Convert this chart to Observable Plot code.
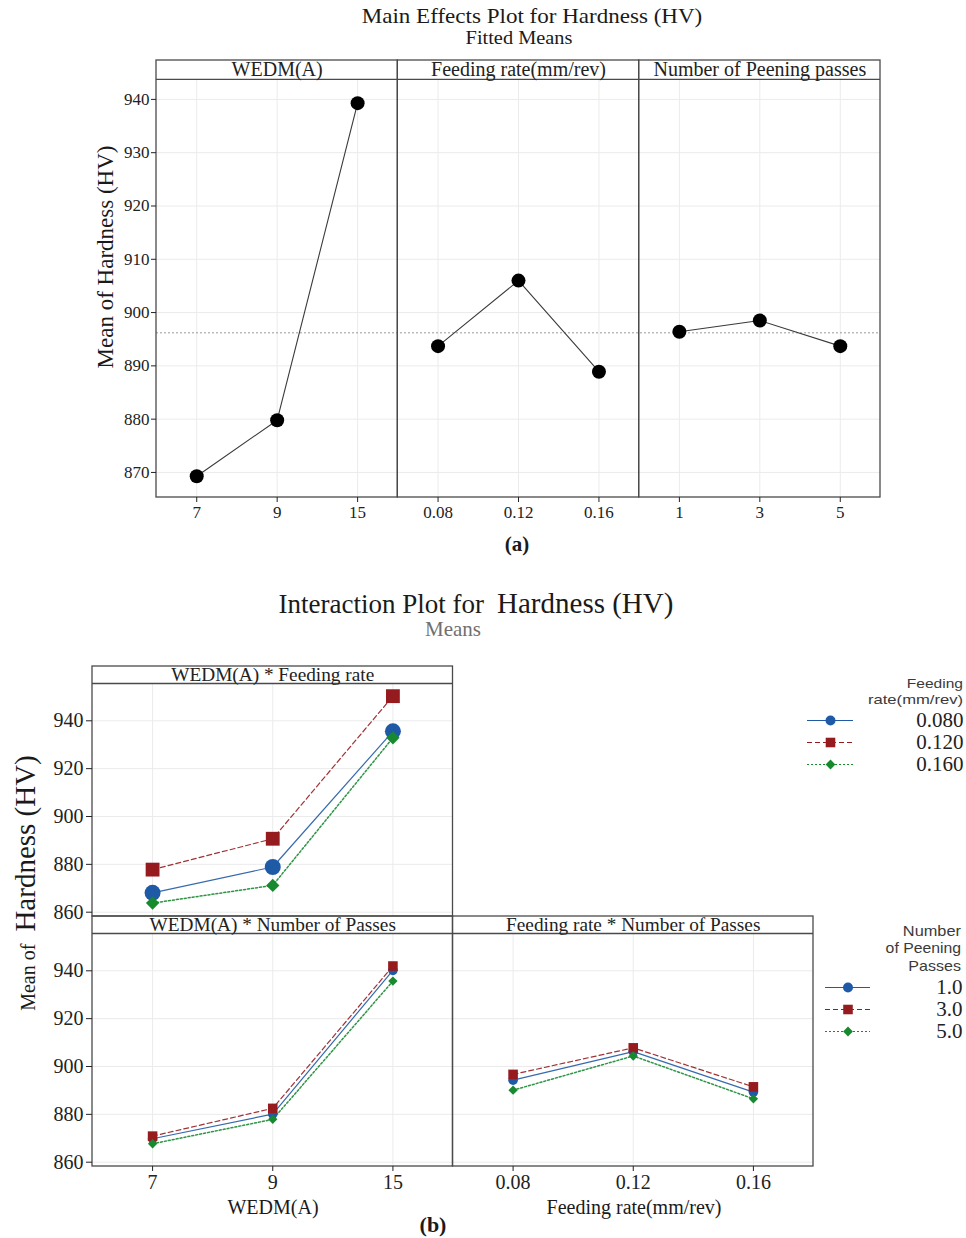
<!DOCTYPE html>
<html><head><meta charset="utf-8">
<script src="https://cdn.jsdelivr.net/npm/d3@7"></script>
<script src="https://cdn.jsdelivr.net/npm/@observablehq/plot@0.6"></script>
<style>
body{margin:0;background:#fff;}
#root{position:relative;width:966px;height:1238px;overflow:hidden;background:#fff;font-family:"Liberation Serif","Times New Roman",serif;color:#1a1a1a;}
.lbl{position:absolute;white-space:nowrap;line-height:1;}
.plotbox{position:absolute;left:0;}
.plotbox svg{overflow:visible;}
</style></head><body><div id="root"></div>
<script>
// ---------- data: main effects ----------
const wedmLevels = ["7", "9", "15"];
const feedLevels = ["0.08", "0.12", "0.16"];
const passLevels = ["1", "3", "5"];
const wedmMeans = [869.3, 879.8, 939.3];
const feedMeans = [893.7, 906.0, 888.9];
const passMeans = [896.4, 898.5, 893.7];
const grandMean = 896.2;
const mainStrips = ["WEDM(A)", "Feeding rate(mm/rev)", "Number of Peening passes"];
const mainTicks = [870, 880, 890, 900, 910, 920, 930, 940];

// ---------- data: interaction ----------
const feedSeries = ["0.080", "0.120", "0.160"];
const passSeries = ["1.0", "3.0", "5.0"];
const wedmByFeed = [[868.1, 878.9, 935.6], [877.8, 890.7, 950.3], [863.8, 871.2, 932.9]];
const wedmByPass = [[869.8, 880.1, 940.2], [870.9, 882.5, 942.0], [867.7, 877.9, 935.7]];
const feedByPass = [[894.3, 906.2, 889.3], [896.7, 907.8, 891.5], [890.1, 904.4, 886.5]];
const interTicks = [860, 880, 900, 920, 940];
const interStrips = ["WEDM(A) * Feeding rate", "WEDM(A) * Number of Passes", "Feeding rate * Number of Passes"];

// ---------- styles ----------
const seriesStyle = [
  {color: "#1f5aa6", dash: null, symbol: "circle", rBig: 8, rSmall: 4.8, rLeg: 5},
  {color: "#961b1e", dash: "5,3", symbol: "square", rBig: 7.8, rSmall: 5.4, rLeg: 5.4},
  {color: "#178a30", dash: "2,2", symbol: "diamond2", rBig: 6, rSmall: 4.2, rLeg: 4.4}
];
const frameColor = "#4a4a4a";
const gridColor = "#ebebeb";
const serif = "Liberation Serif, Times New Roman, serif";

const root = document.getElementById("root");
function label(text, cx, cy, css, opts) {
  opts = opts || {};
  const d = document.createElement("div");
  d.className = "lbl";
  d.innerHTML = text;
  d.style.left = cx + "px";
  d.style.top = cy + "px";
  const sx = opts.sx ? ` scaleX(${opts.sx})` : "";
  if (opts.right) {
    d.style.transformOrigin = "100% 50%";
    d.style.transform = "translate(-100%,-50%)" + sx;
  } else {
    d.style.transform = "translate(-50%,-50%)" + (opts.rotate ? " rotate(-90deg)" : "") + sx;
  }
  Object.assign(d.style, css || {});
  root.appendChild(d);
  return d;
}
function place(svg, top, left) {
  const box = document.createElement("div");
  box.className = "plotbox";
  box.style.top = top + "px";
  box.style.left = (left || 0) + "px";
  box.appendChild(svg);
  root.appendChild(box);
}

// ================= (a) Main effects =================
const factors = [
  {levels: wedmLevels, means: wedmMeans},
  {levels: feedLevels, means: feedMeans},
  {levels: passLevels, means: passMeans}
];
const mainData = factors.flatMap((f, k) => f.levels.map((lv, j) => ({factor: k, i: 3 * k + j, v: f.means[j]})));
const mainTickLabels = [...wedmLevels, ...feedLevels, ...passLevels];
const mainPanels = [0, 1, 2].map(k => ({x1: 3 * k - 0.5, x2: 3 * k + 2.5, xc: 3 * k + 1, label: mainStrips[k]}));
const yMinA = 865.3, yStripA = 943.75, yTopA = 947.3;

const mainPlot = Plot.plot({
  width: 966, height: 485,
  marginTop: 15, marginBottom: 33, marginLeft: 156, marginRight: 86,
  style: {background: "transparent", fontFamily: serif, fontSize: "17px", color: "#222"},
  x: {type: "linear", domain: [-0.5, 8.5]},
  y: {domain: [yMinA, yTopA]},
  marks: [
    Plot.ruleY(mainTicks, {stroke: gridColor}),
    Plot.ruleX(d3.range(9), {y1: yMinA, y2: yStripA, stroke: gridColor}),
    Plot.ruleY([grandMean], {stroke: "#9a9a9a", strokeDasharray: "2,2"}),
    Plot.line(mainData, {x: "i", y: "v", z: "factor", stroke: "#3a3a3a", strokeWidth: 1.1}),
    Plot.dot(mainData, {x: "i", y: "v", r: 7, fill: "#000"}),
    Plot.rect(mainPanels, {x1: "x1", x2: "x2", y1: yMinA, y2: yTopA, fill: "none", stroke: frameColor, strokeWidth: 1.3}),
    Plot.ruleY(mainPanels, {x1: "x1", x2: "x2", y: yStripA, stroke: frameColor, strokeWidth: 1.3}),
    Plot.text(mainPanels, {x: "xc", y: (yStripA + yTopA) / 2, text: "label", fontSize: 20, fill: "#222"}),
    Plot.axisY({ticks: mainTicks, tickSize: 5, tickPadding: 2, label: null}),
    Plot.axisX({ticks: d3.range(9), tickFormat: i => mainTickLabels[i], tickSize: 5, tickPadding: 3, label: null})
  ]
});
place(mainPlot, 45);

label("Main Effects Plot for Hardness (HV)", 532, 16.4, {fontSize: "22px"}, {sx: 1.047});
label("Fitted Means", 519, 38.6, {fontSize: "17.8px"}, {sx: 1.145});
label("Mean of Hardness (HV)", 105, 257, {fontSize: "23px"}, {rotate: true});
label("(a)", 517, 544, {fontSize: "21px", fontWeight: "bold"});

// ================= (b) Interaction =================
const yMinB = 858.2, yStripB = 955.6, yTopB = 962.7;
const interTickLabels = [...wedmLevels, ...feedLevels];

function panelMarks(panels, seriesSets, big) {
  const grid = panels.flatMap(p => interTicks.map(t => ({y: t, x1: p.x1, x2: p.x2})));
  const vgrid = panels.flatMap(p => [0, 1, 2].map(j => p.x1 + 0.5 + j));
  const marks = [
    Plot.ruleY(grid, {y: "y", x1: "x1", x2: "x2", stroke: gridColor}),
    Plot.ruleX(vgrid, {y1: yMinB, y2: yStripB, stroke: gridColor})
  ];
  const perSeries = [0, 1, 2].map(s => seriesSets.flatMap((set, pi) =>
    set.values[s].map((v, j) => ({panel: pi, i: set.offset + j, v}))));
  perSeries.forEach((data, s) => {
    const st = seriesStyle[s];
    marks.push(Plot.line(data, {x: "i", y: "v", z: "panel", stroke: st.color, strokeWidth: s === 2 ? 1.5 : 1.2, strokeDasharray: st.dash, strokeOpacity: 0.9}));
  });
  perSeries.forEach((data, s) => {
    const st = seriesStyle[s];
    marks.push(Plot.dot(data, {x: "i", y: "v", symbol: st.symbol, r: big ? st.rBig : st.rSmall, fill: st.color}));
  });
  marks.push(
    Plot.rect(panels, {x1: "x1", x2: "x2", y1: yMinB, y2: yTopB, fill: "none", stroke: frameColor, strokeWidth: 1.3}),
    Plot.ruleY(panels, {x1: "x1", x2: "x2", y: yStripB, stroke: frameColor, strokeWidth: 1.3}),
    Plot.text(panels, {x: "xc", y: (yStripB + yTopB) / 2, text: "label", fontSize: 19.3, fill: "#222"}),
    Plot.axisY({ticks: interTicks, tickSize: 6, tickPadding: 3, label: null})
  );
  return marks;
}

const rowA = Plot.plot({
  width: 966, height: 290,
  marginTop: 26, marginBottom: 14, marginLeft: 92, marginRight: 153,
  style: {background: "transparent", fontFamily: serif, fontSize: "20px", color: "#222"},
  x: {type: "linear", domain: [-0.5, 5.5], axis: null},
  y: {domain: [yMinB, yTopB]},
  marks: panelMarks([{x1: -0.5, x2: 2.5, xc: 1, label: interStrips[0]}], [{offset: 0, values: wedmByFeed}], true)
});

const rowB = Plot.plot({
  width: 966, height: 310,
  marginTop: 16, marginBottom: 44, marginLeft: 92, marginRight: 153,
  style: {background: "transparent", fontFamily: serif, fontSize: "20px", color: "#222"},
  x: {type: "linear", domain: [-0.5, 5.5]},
  y: {domain: [yMinB, yTopB]},
  marks: [
    ...panelMarks([
      {x1: -0.5, x2: 2.5, xc: 1, label: interStrips[1]},
      {x1: 2.5, x2: 5.5, xc: 4, label: interStrips[2]}
    ], [{offset: 0, values: wedmByPass}, {offset: 3, values: feedByPass}], false),
    Plot.axisX({ticks: d3.range(6), tickFormat: i => interTickLabels[i], tickSize: 5, tickPadding: 3, label: null})
  ]
});
place(rowA, 640);
place(rowB, 900);

label('Interaction Plot for<span style="font-size:29px;margin-left:13px">Hardness (HV)</span>', 476, 603, {fontSize: "27px"});
label("Means", 453, 629, {fontSize: "21px", color: "#707070"});
label('<span style="font-size:20px">Mean of</span><span style="font-size:29px;margin-left:12px">Hardness (HV)</span>', 25, 883, {}, {rotate: true});
label("WEDM(A)", 273, 1207, {fontSize: "20px"});
label("Feeding rate(mm/rev)", 634, 1207, {fontSize: "20px"});
label("(b)", 433, 1225, {fontSize: "22px", fontWeight: "bold"});

// ---------- legends ----------
function legendPlot(series, lineX1, lineX2, textRight) {
  const left = 800;
  return Plot.plot({
    width: 166, height: 66,
    marginTop: 11, marginBottom: 11, marginLeft: lineX1 - left, marginRight: left + 166 - lineX2,
    style: {background: "transparent", fontFamily: serif, fontSize: "21px", color: "#222"},
    x: {domain: [0, 1], axis: null},
    y: {type: "point", domain: series, padding: 0, axis: null},
    marks: [
      ...series.map((s, i) => Plot.ruleY([s], {x1: 0, x2: 1, stroke: seriesStyle[i].color, strokeWidth: 1.2, strokeDasharray: seriesStyle[i].dash})),
      ...series.map((s, i) => Plot.dot([s], {x: 0.5, y: d => d, symbol: seriesStyle[i].symbol, r: seriesStyle[i].rLeg, fill: seriesStyle[i].color})),
      Plot.text(series, {y: d => d, text: d => d, frameAnchor: "right", dx: textRight - lineX2, textAnchor: "end", fontSize: 21, fill: "#222"})
    ]
  });
}
place(legendPlot(feedSeries, 807, 853, 963), 709, 800);
place(legendPlot(passSeries, 825, 870, 962), 976, 800);

const legA = {fontFamily: "'Liberation Sans', Arial, sans-serif", fontSize: "13.4px", color: "#3a3a3a"};
const legB = {fontFamily: "'Liberation Sans', Arial, sans-serif", fontSize: "14.6px", color: "#3a3a3a"};
label("Feeding", 963, 684, legA, {right: true, sx: 1.16});
label("rate(mm/rev)", 963, 699.5, legA, {right: true, sx: 1.24});
label("Number", 961, 931, legB, {right: true, sx: 1.12});
label("of Peening", 961, 948.3, legB, {right: true, sx: 1.08});
label("Passes", 961, 965.6, legB, {right: true, sx: 1.1});
</script>
</body></html>
